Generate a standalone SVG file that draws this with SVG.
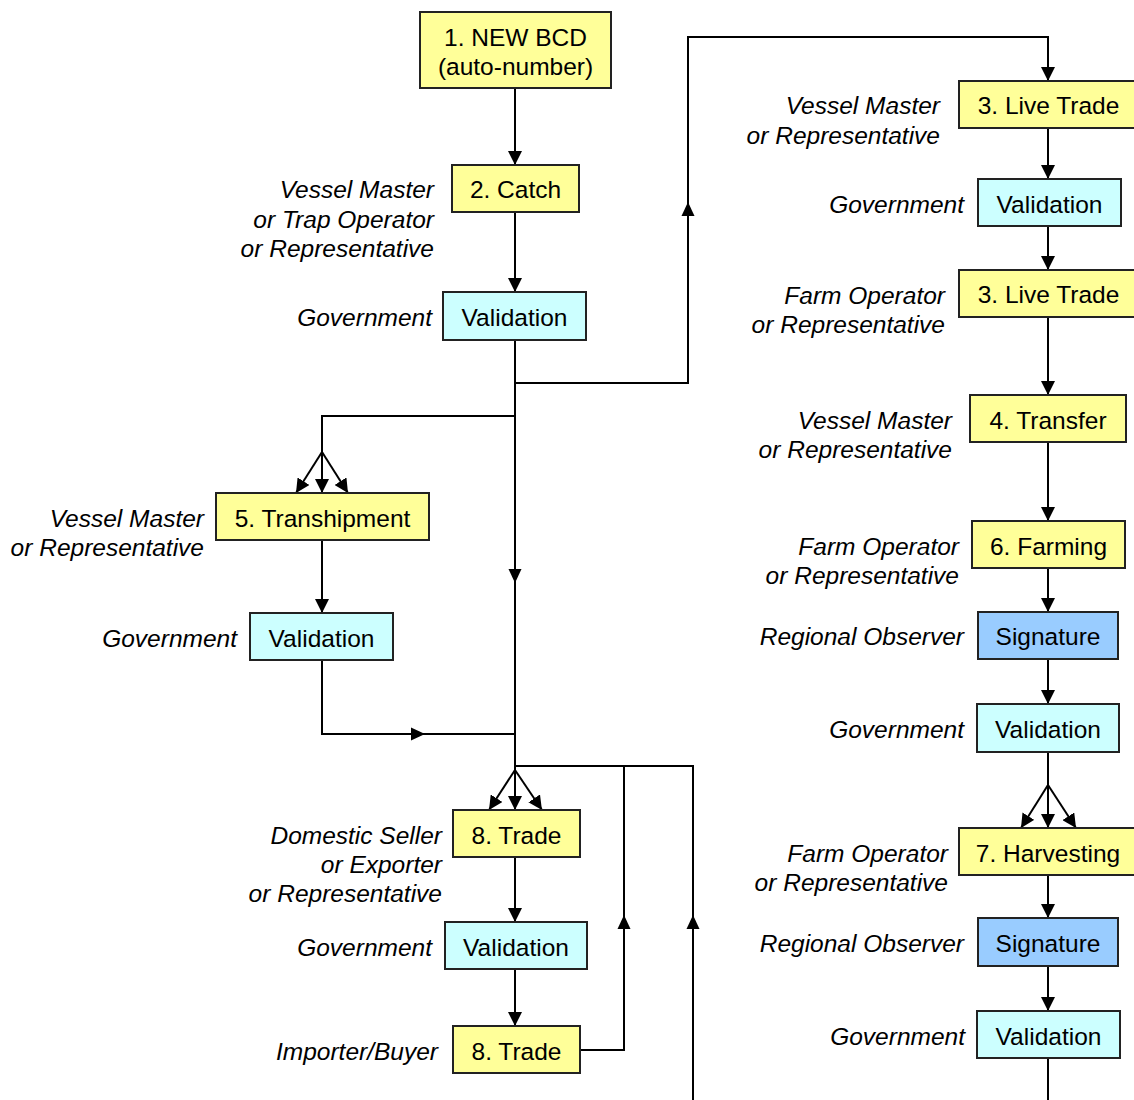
<svg xmlns="http://www.w3.org/2000/svg" width="1134" height="1100" viewBox="0 0 1134 1100">
<defs>
<marker id="ah" markerWidth="14" markerHeight="14" refX="14" refY="7" orient="auto" markerUnits="userSpaceOnUse"><path d="M0,0 L14,7 L0,14 z" fill="#000"/></marker>
<style>
.box rect{stroke:#222;stroke-width:2}
.y rect{fill:#FFFF99}
.c rect{fill:#CCFFFF}
.b rect{fill:#99CCFF}
.t{font-family:"Liberation Sans",Arial,sans-serif;font-size:24.5px;fill:#000;text-anchor:middle}
.l{font-family:"Liberation Sans",Arial,sans-serif;font-size:24.5px;font-style:italic;fill:#000;text-anchor:end}
.cn path,.cn line{fill:none;stroke:#000;stroke-width:2}
.cn polygon{fill:#000;stroke:none}
</style>
</defs>
<rect width="1134" height="1100" fill="#fff"/>
<g class="cn" id="connectors">
<line x1="515" y1="88" x2="515" y2="165" marker-end="url(#ah)"/>
<line x1="515" y1="212" x2="515" y2="292" marker-end="url(#ah)"/>
<path d="M515,340 V770"/>
<polygon points="508.5,569 521.5,569 515,583"/>
<path d="M515,383 H688 V37 H1048 V81" marker-end="url(#ah)"/>
<polygon points="681.5,216 694.5,216 688,202"/>
<path d="M515,416 H322 V452"/>
<line x1="322" y1="452" x2="296" y2="493" marker-end="url(#ah)"/>
<line x1="322" y1="452" x2="322" y2="493" marker-end="url(#ah)"/>
<line x1="322" y1="452" x2="348" y2="493" marker-end="url(#ah)"/>
<line x1="322" y1="540" x2="322" y2="613" marker-end="url(#ah)"/>
<path d="M322,660 V734 H515"/>
<polygon points="411,727.5 411,740.5 425,734"/>
<line x1="515" y1="770" x2="489" y2="810" marker-end="url(#ah)"/>
<line x1="515" y1="770" x2="515" y2="810" marker-end="url(#ah)"/>
<line x1="515" y1="770" x2="542" y2="810" marker-end="url(#ah)"/>
<path d="M515,766 H693 V1100"/>
<polygon points="686.5,929 699.5,929 693,915"/>
<line x1="515" y1="857" x2="515" y2="922" marker-end="url(#ah)"/>
<line x1="515" y1="969" x2="515" y2="1026" marker-end="url(#ah)"/>
<path d="M580,1050 H624 V766"/>
<polygon points="617.5,929 630.5,929 624,915"/>
<line x1="1048" y1="128" x2="1048" y2="179" marker-end="url(#ah)"/>
<line x1="1048" y1="226" x2="1048" y2="270" marker-end="url(#ah)"/>
<line x1="1048" y1="317" x2="1048" y2="395" marker-end="url(#ah)"/>
<line x1="1048" y1="442" x2="1048" y2="521" marker-end="url(#ah)"/>
<line x1="1048" y1="568" x2="1048" y2="612" marker-end="url(#ah)"/>
<line x1="1048" y1="659" x2="1048" y2="704" marker-end="url(#ah)"/>
<path d="M1048,752 V785"/>
<line x1="1048" y1="785" x2="1021" y2="828" marker-end="url(#ah)"/>
<line x1="1048" y1="785" x2="1048" y2="828" marker-end="url(#ah)"/>
<line x1="1048" y1="785" x2="1076" y2="828" marker-end="url(#ah)"/>
<line x1="1048" y1="875" x2="1048" y2="918" marker-end="url(#ah)"/>
<line x1="1048" y1="966" x2="1048" y2="1011" marker-end="url(#ah)"/>
<line x1="1048" y1="1058" x2="1048" y2="1100"/>
</g>
<g id="n1" class="box y"><rect x="420" y="12" width="191" height="76"/><text class="t" x="515.5" y="46">1. NEW BCD</text><text class="t" x="515.5" y="75">(auto-number)</text></g>
<g id="n2" class="box y"><rect x="452" y="165" width="127" height="47"/><text class="t" x="515.5" y="198">2. Catch</text>
<text class="l" x="434" y="198">Vessel Master</text><text class="l" x="434" y="228">or Trap Operator</text><text class="l" x="434" y="257">or Representative</text></g>
<g id="v1" class="box c"><rect x="443" y="292" width="143" height="48"/><text class="t" x="514.5" y="326">Validation</text><text class="l" x="432" y="326">Government</text></g>
<g id="n3a" class="box y"><rect x="959" y="81" width="180" height="47"/><text class="t" x="1048.5" y="114">3. Live Trade</text>
<text class="l" x="940" y="114">Vessel Master</text><text class="l" x="940" y="144">or Representative</text></g>
<g id="v2" class="box c"><rect x="978" y="179" width="143" height="47"/><text class="t" x="1049.5" y="213">Validation</text><text class="l" x="964" y="213">Government</text></g>
<g id="n3b" class="box y"><rect x="959" y="270" width="180" height="47"/><text class="t" x="1048.5" y="303">3. Live Trade</text>
<text class="l" x="945" y="304">Farm Operator</text><text class="l" x="945" y="333">or Representative</text></g>
<g id="n4" class="box y"><rect x="970" y="395" width="156" height="47"/><text class="t" x="1048" y="429">4. Transfer</text>
<text class="l" x="952" y="429">Vessel Master</text><text class="l" x="952" y="458">or Representative</text></g>
<g id="n6" class="box y"><rect x="972" y="521" width="153" height="47"/><text class="t" x="1048.5" y="555">6. Farming</text>
<text class="l" x="959" y="555">Farm Operator</text><text class="l" x="959" y="584">or Representative</text></g>
<g id="s1" class="box b"><rect x="978" y="612" width="140" height="47"/><text class="t" x="1048" y="645">Signature</text><text class="l" x="964" y="645">Regional Observer</text></g>
<g id="v3" class="box c"><rect x="977" y="704" width="142" height="48"/><text class="t" x="1048" y="738">Validation</text><text class="l" x="964" y="738">Government</text></g>
<g id="n7" class="box y"><rect x="959" y="828" width="180" height="47"/><text class="t" x="1048" y="862">7. Harvesting</text>
<text class="l" x="948" y="862">Farm Operator</text><text class="l" x="948" y="891">or Representative</text></g>
<g id="s2" class="box b"><rect x="978" y="918" width="140" height="48"/><text class="t" x="1048" y="952">Signature</text><text class="l" x="964" y="952">Regional Observer</text></g>
<g id="v4" class="box c"><rect x="977" y="1011" width="143" height="47"/><text class="t" x="1048.5" y="1045">Validation</text><text class="l" x="965" y="1045">Government</text></g>
<g id="n5" class="box y"><rect x="216" y="493" width="213" height="47"/><text class="t" x="322.5" y="527">5. Transhipment</text>
<text class="l" x="204" y="527">Vessel Master</text><text class="l" x="204" y="556">or Representative</text></g>
<g id="v5" class="box c"><rect x="250" y="613" width="143" height="47"/><text class="t" x="321.5" y="647">Validation</text><text class="l" x="237" y="647">Government</text></g>
<g id="n8a" class="box y"><rect x="453" y="810" width="127" height="47"/><text class="t" x="516.5" y="844">8. Trade</text>
<text class="l" x="442" y="844">Domestic Seller</text><text class="l" x="442" y="873">or Exporter</text><text class="l" x="442" y="902">or Representative</text></g>
<g id="v6" class="box c"><rect x="445" y="922" width="142" height="47"/><text class="t" x="516" y="956">Validation</text><text class="l" x="432" y="956">Government</text></g>
<g id="n8b" class="box y"><rect x="453" y="1026" width="127" height="47"/><text class="t" x="516.5" y="1060">8. Trade</text><text class="l" x="438" y="1060">Importer/Buyer</text></g>
</svg>
